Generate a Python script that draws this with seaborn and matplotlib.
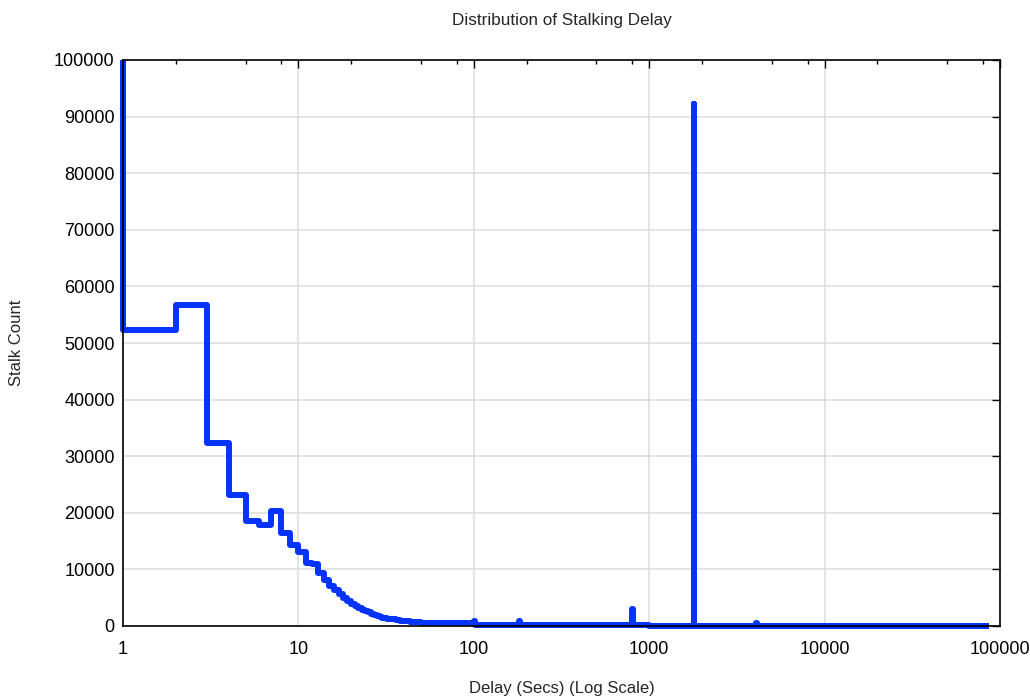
import numpy as np
import pandas as pd
import seaborn as sns
import matplotlib.pyplot as plt
import matplotlib.ticker as mtick

# delay (secs) and stalk counts (step plot)
delay = [1, 1, 2, 3, 4, 5, 6, 7, 8, 9, 10, 11, 12, 13, 14, 15, 16, 17, 18,
         19, 20, 21, 22, 23, 24, 25, 26, 27, 28, 29, 30, 32, 34, 36, 38, 40,
         43, 46, 50, 55, 60, 70, 80, 90, 96,
         100, 102, 120, 150, 178, 180, 183, 250, 400, 600, 795, 800, 805,
         1000, 1500, 1798, 1800, 1802, 2500, 4000, 4050, 4100, 6000, 10000,
         20000, 40000, 60000, 86000]
stalks = [100000, 52300, 56700, 32300, 23100, 18600, 17900, 20300, 16400,
          14300, 13000, 11100, 11000, 9300, 8100, 7100, 6300, 5600, 5000,
          4400, 3900, 3500, 3200, 2900, 2650, 2400, 2200, 2000, 1800, 1650,
          1500, 1300, 1150, 1000, 900, 800, 700, 620, 560, 520, 500, 480,
          500, 600, 550,
          900, 200, 150, 150, 150, 800, 150,
          120, 100, 100, 100, 3000, 100, 80, 80, 80, 92200, 80, 80, 80, 600,
          80, 60, 60, 60, 60, 60, 60]

xtick_vals = [1, 10, 100, 1000, 10000, 100000]
xtick_labels = ['1', '10', '100', '1000', '10000', '100000']
ytick_vals = list(range(0, 100001, 10000))
ytick_labels = [str(v) for v in ytick_vals]

df = pd.DataFrame({'delay': delay, 'stalks': stalks})

sns.set_style('white')
plt.rcParams['font.family'] = ['Liberation Sans', 'DejaVu Sans']

fig = plt.figure(figsize=(10.3, 6.99), dpi=100)
ax = fig.add_axes([123 / 1030, 1 - 626 / 699, 877 / 1030, 566 / 699])

sns.lineplot(data=df, x='delay', y='stalks', ax=ax, sort=False,
             estimator=None, drawstyle='steps-post', color='#0433ff',
             linewidth=4.3, solid_joinstyle='round', solid_capstyle='butt',
             clip_on=False, zorder=2)

ax.set_xscale('log')
ax.set_xlim(1, 100000)
ax.set_ylim(0, 100000)

ax.set_xticks(xtick_vals)
ax.set_xticklabels(xtick_labels)
minors = [m * 10 ** k for k in range(5) for m in (2, 5, 8)]
ax.xaxis.set_minor_locator(mtick.FixedLocator(minors))
ax.xaxis.set_minor_formatter(mtick.NullFormatter())
ax.set_yticks(ytick_vals)
ax.set_yticklabels(ytick_labels)

ax.tick_params(which='both', direction='in', top=True, right=True,
               colors='black', labelsize=13, width=1)
ax.tick_params(which='major', length=5.8)
ax.tick_params(which='minor', length=2.9)
ax.tick_params(axis='y', pad=6)
ax.tick_params(axis='x', pad=11)

ax.grid(True, which='major', color='#dcdcdc', linewidth=1.1)
ax.set_axisbelow(True)
for sp in ax.spines.values():
    sp.set_color('black')
    sp.set_linewidth(1.2)
    sp.set_zorder(3)

ax.set_xlabel('Delay (Secs) (Log Scale)', fontsize=12, va='center')
ax.xaxis.set_label_coords(0.5, -(688 - 626) / 566)
ax.set_ylabel('Stalk Count', fontsize=12, va='center')
ax.yaxis.set_label_coords((17 - 123) / 877, 0.5)
fig.text((123 + 1000) / 2 / 1030, 1 - 21 / 699, 'Distribution of Stalking Delay',
         fontsize=12.3, ha='center', va='center')

plt.savefig('out.png', dpi=100)
